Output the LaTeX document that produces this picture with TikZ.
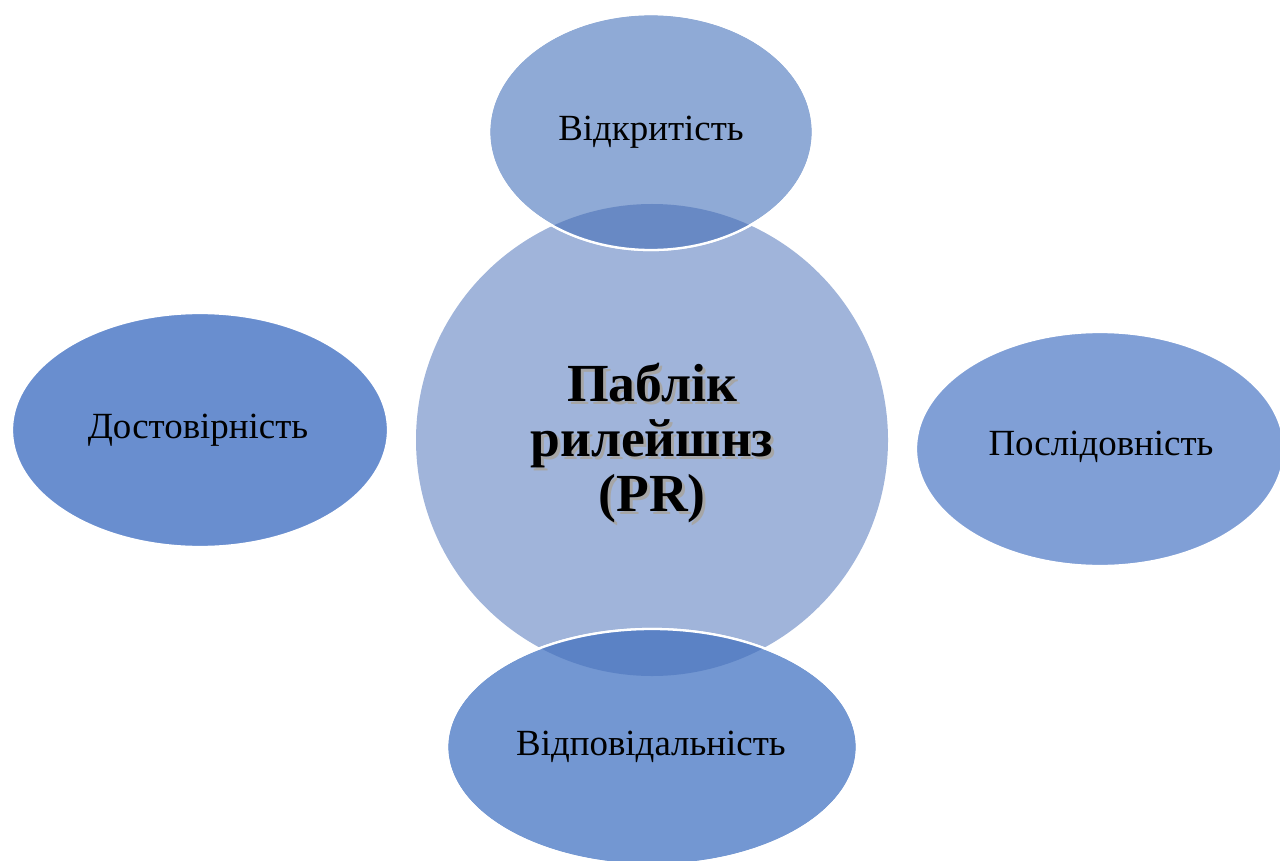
\documentclass[tikz,border=0pt]{standalone}
\usepackage{fontspec}
\setmainfont{Liberation Serif}
\usetikzlibrary{positioning}

\definecolor{circfill}{HTML}{A0B4DA}
\definecolor{topfill}{HTML}{8FAAD6}
\definecolor{topover}{HTML}{6889C4}
\definecolor{leftfill}{HTML}{698ECF}
\definecolor{rightfill}{HTML}{809FD6}
\definecolor{botfill}{HTML}{7397D2}
\definecolor{botover}{HTML}{5B82C5}

\tikzset{
  petal/.style={draw=white, line width=1.3pt},
  petaltext/.style={font=\fontsize{21}{25}\selectfont, text=black},
  hubtext/.style={font=\fontsize{30.5}{31.2}\selectfont\bfseries, align=center}
}

\begin{document}
\begin{tikzpicture}[x=0.02cm,y=-0.02cm]
        \useasboundingbox (0,0) rectangle (1280,861);
        \clip (0,0) rectangle (1280,861);
        \fill [circfill] (652,440)circle[radius=236];
        \filldraw [petal, fill=topfill] (651,132)circle[x radius=162,y radius=118];
        \filldraw [petal, fill=leftfill] (200,430)circle[x radius=188,y radius=117];
        \filldraw [petal, fill=rightfill] (1100,449)circle[x radius=184,y radius=117];
        \filldraw [petal, fill=botfill] (652,747)circle[x radius=205,y radius=118];
        % overlaps with the hub
        \begin{scope}
          \clip (652,440)circle[radius=236];
          \fill [topover] (651,132)circle[x radius=162,y radius=118];
          \fill [botover] (652,747)circle[x radius=205,y radius=118];
        \end{scope}
        \draw [petal] (651,132)circle[x radius=162,y radius=118];
        \draw [petal] (652,747)circle[x radius=205,y radius=118];
        \node[petaltext] (open) at (651,132){Відкритість};
        \node[petaltext] (trust) at (198,430){Достовірність};
        \node[petaltext] (seq) at (1101,447){Послідовність};
        \node[petaltext] (resp) at (651,747){Відповідальність};
        \node[hubtext, text=black!35] (hubshadow) at (655,446){Паблік\\рилейшнз\\(PR)};
        \node[hubtext] (hub) at (652,443){Паблік\\рилейшнз\\(PR)};
      \end{tikzpicture}
\end{document}
